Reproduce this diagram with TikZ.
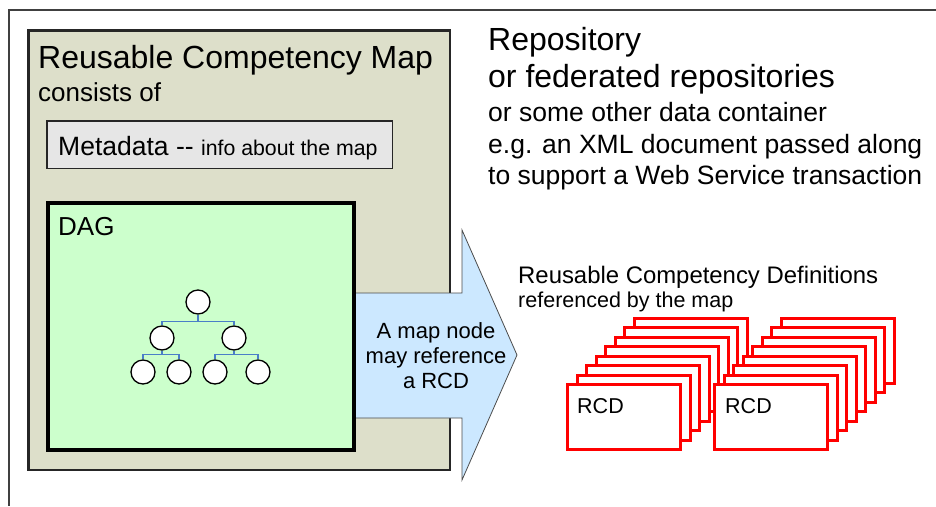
\documentclass[tikz,border=0pt]{standalone}
\usepackage{fontspec}
\setmainfont{Liberation Sans}
\definecolor{mapbg}{HTML}{DDDFCA}
\definecolor{dagbg}{HTML}{CCFFCC}
\definecolor{metabg}{HTML}{E6E6E6}
\definecolor{arrowbg}{HTML}{CCE8FF}
\definecolor{treeline}{HTML}{4A7EC8}
\tikzset{
  txt/.style={inner sep=0pt, anchor=base west},
  box/.style={inner sep=0pt, draw=black!85},
  card/.style={draw=red, fill=white, line width=3pt, minimum width=113pt, minimum height=65pt, inner sep=0pt},
  dot/.style={circle, draw, fill=white, line width=1.3pt, minimum size=24pt, inner sep=0pt},
  tree/.style={draw=treeline, line width=1.3pt}
}

\begin{document}
\begin{tikzpicture}[x=1pt,y=-1pt]
  \useasboundingbox (0,0) rectangle (936,506);
  \draw[black!75, line width=1.2pt] (936,10) -- (9,10) -- (9,506);

  % the map and what it holds
  \node[box, fill=mapbg, line width=2.5pt, minimum width=421.5pt, minimum height=439.5pt] (map) at (239,250) {};
  \node[txt, font=\fontsize{32}{36}\selectfont] (title) at (38,68) {Reusable Competency Map};
  \node[txt, font=\fontsize{26}{30}\selectfont] (cons) at (38,101) {consists of};
  \node[box, fill=metabg, line width=1.5pt, minimum width=345.5pt, minimum height=47.5pt] (meta) at (219.5,144.5) {};
  \node[txt] (metatxt) at (58,155) {\fontsize{26.5}{30}\selectfont Metadata -{}- \fontsize{21.3}{25}\selectfont info about the map};

  % arrow towards the definitions
  \draw[draw=black!70, fill=arrowbg, line width=.8pt] (350,293) -- (462,293) -- (462,230) -- (517,355)
        -- (462,480) -- (462,418) -- (350,418) -- cycle;
  \node[align=center, inner sep=0pt, font=\fontsize{22}{25}\selectfont] (arrtxt) at (436,356) {A map node\\may reference\\a RCD};

  \node[draw=black, fill=dagbg, line width=4pt, minimum width=306pt, minimum height=247pt, inner sep=0pt] (dag) at (201,326.5) {};
  \node[txt, font=\fontsize{26}{30}\selectfont] (dagtxt) at (58,235) {DAG};

  % the tree
  \node[dot] (r) at (198,302) {};
  \node[dot] (a) at (162,338) {};
  \node[dot] (b) at (234,338) {};
  \node[dot] (a1) at (143,372) {};
  \node[dot] (a2) at (179,372) {};
  \node[dot] (b1) at (215,372) {};
  \node[dot] (b2) at (258,372) {};
  \draw[tree] (r.south) -- ++(0,7) -| (a.north);
  \draw[tree] (r.south) -- ++(0,7) -| (b.north);
  \draw[tree] (a.south) -- ++(0,4) -| (a1.north);
  \draw[tree] (a.south) -- ++(0,4) -| (a2.north);
  \draw[tree] (b.south) -- ++(0,4) -| (b1.north);
  \draw[tree] (b.south) -- ++(0,4) -| (b2.north);

  % repository
  \node[txt, font=\fontsize{32}{36}\selectfont] (rep) at (488,50) {Repository};
  \node[txt, font=\fontsize{32}{36}\selectfont] (fed) at (488,87) {or federated repositories};
  \node[txt, font=\fontsize{26.5}{30}\selectfont] (other) at (488,121) {or some other data container};
  \node[txt, font=\fontsize{26.5}{30}\selectfont] (xml) at (488,153) {e.g. an XML document passed along};
  \node[txt, font=\fontsize{26.5}{30}\selectfont] (ws) at (488,184) {to support a Web Service transaction};

  % the definitions
  \node[txt, font=\fontsize{23.9}{28}\selectfont] (rcdhead) at (518,283) {Reusable Competency Definitions};
  \node[txt, font=\fontsize{21.5}{25}\selectfont] (rcdsub) at (518,307) {referenced by the map};
  \foreach \k in {7,...,0}
    \node[card] (p\k) at (624+9.5*\k, 417-9.5*\k) {};
  \foreach \k in {7,...,0}
    \node[card] (q\k) at (771+9.5*\k, 417-9.5*\k) {};
  \node[txt, font=\fontsize{21.5}{25}\selectfont] (ptxt) at (577,413) {RCD};
  \node[txt, font=\fontsize{21.5}{25}\selectfont] (qtxt) at (725,413) {RCD};
\end{tikzpicture}
\end{document}
